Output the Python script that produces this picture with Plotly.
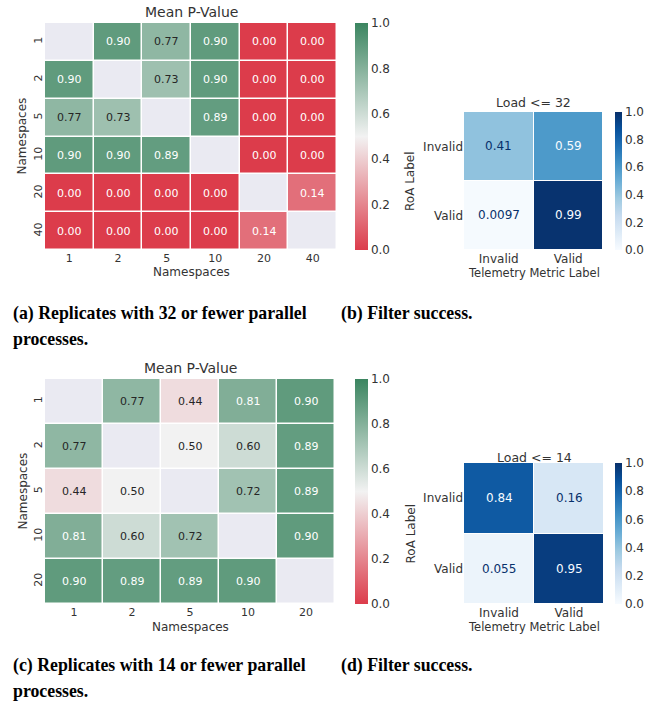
import plotly.graph_objects as go

W, H = 658, 704

# ---------------- data ----------------
ns_a = ["1", "2", "5", "10", "20", "40"]
pval_a = [
    [None, 0.90, 0.77, 0.90, 0.00, 0.00],
    [0.90, None, 0.73, 0.90, 0.00, 0.00],
    [0.77, 0.73, None, 0.89, 0.00, 0.00],
    [0.90, 0.90, 0.89, None, 0.00, 0.00],
    [0.00, 0.00, 0.00, 0.00, None, 0.14],
    [0.00, 0.00, 0.00, 0.00, 0.14, None],
]
ns_c = ["1", "2", "5", "10", "20"]
pval_c = [
    [None, 0.77, 0.44, 0.81, 0.90],
    [0.77, None, 0.50, 0.60, 0.89],
    [0.44, 0.50, None, 0.72, 0.89],
    [0.81, 0.60, 0.72, None, 0.90],
    [0.90, 0.89, 0.89, 0.90, None],
]
cm_labels = ["Invalid", "Valid"]
cm_b = [[0.41, 0.59], [0.0097, 0.99]]
cm_d = [[0.84, 0.16], [0.055, 0.95]]
cbar_ticks = [0.0, 0.2, 0.4, 0.6, 0.8, 1.0]

# ---------------- styles ----------------
RED, MID, GREEN = (220, 60, 75), (242, 242, 242), (59, 133, 96)
pv_scale = [[0, "rgb(220,60,75)"], [0.5, "rgb(242,242,242)"], [1, "rgb(59,133,96)"]]
NAN_COLOR = "#EAEAF2"
TXT = "#333333"
FONT = "DejaVu Sans"


def px_x(p):
    return p / W


def px_y(p):
    return 1 - p / H


def pv_color(v):
    if v <= 0.5:
        t = v / 0.5
        a, b = RED, MID
    else:
        t = (v - 0.5) / 0.5
        a, b = MID, GREEN
    return [a[i] + (b[i] - a[i]) * t for i in range(3)]


def lum(rgb):
    def lin(c):
        c = c / 255
        return c / 12.92 if c <= 0.04045 else ((c + 0.055) / 1.055) ** 2.4
    r, g, b = (lin(c) for c in rgb)
    return 0.2126 * r + 0.7152 * g + 0.0722 * b


fig = go.Figure()
annotations = []


def label(x, y, text, size, angle=0, anchor="center"):
    annotations.append(dict(x=px_x(x), y=px_y(y), xref="paper", yref="paper", text=text,
                            showarrow=False, xanchor=anchor, yanchor="middle", textangle=angle,
                            font=dict(family=FONT, size=size, color=TXT)))


def colorbar(cbar_box):
    cx, cy0, cy1, th = cbar_box
    return dict(x=px_x(cx), xanchor="left", y=px_y((cy0 + cy1) / 2), yanchor="middle",
                len=cy1 - cy0, lenmode="pixels", thickness=th, thicknessmode="pixels",
                xpad=0, ypad=0, outlinewidth=0, ticks="", ticklen=0, tickvals=cbar_ticks,
                tickformat=".1f", tickfont=dict(family=FONT, size=12, color=TXT))


def axes(xi, yi, box, labels, fsize, yangle):
    x0, x1, y0, y1 = box
    n = len(labels)
    idx = list(range(n))
    lay = {}
    lay["xaxis" + xi] = dict(domain=[px_x(x0), px_x(x1)], anchor="y" + yi,
                             range=[-0.5, n - 0.5], tickvals=idx, ticktext=labels,
                             showgrid=False, zeroline=False, ticks="", showline=False,
                             automargin=False, fixedrange=True,
                             tickfont=dict(family=FONT, size=fsize, color=TXT))
    lay["yaxis" + yi] = dict(domain=[px_y(y1), px_y(y0)], anchor="x" + xi,
                             range=[n - 0.5, -0.5], tickvals=idx, ticktext=labels,
                             showgrid=False, zeroline=False, ticks="", showline=False,
                             automargin=False, fixedrange=True, tickangle=yangle,
                             tickfont=dict(family=FONT, size=fsize, color=TXT))
    fig.update_layout(**lay)


def add_pval(z, cats, ax, box, cbar_box, title, title_y, xt_y, yt_x):
    xi, yi = ax
    xa, ya = "x" + xi, "y" + yi
    x0, x1, y0, y1 = box
    idx = list(range(len(cats)))
    mask = [[1 if v is None else None for v in row] for row in z]
    fig.add_trace(go.Heatmap(z=mask, x=idx, y=idx, xaxis=xa, yaxis=ya,
                             colorscale=[[0, NAN_COLOR], [1, NAN_COLOR]],
                             showscale=False, xgap=1.5, ygap=1.5, hoverinfo="skip"))
    fig.add_trace(go.Heatmap(z=z, x=idx, y=idx, xaxis=xa, yaxis=ya, zmin=0, zmax=1,
                             colorscale=pv_scale, xgap=1.5, ygap=1.5,
                             colorbar=colorbar(cbar_box)))
    for r, row in enumerate(z):
        for c, v in enumerate(row):
            if v is None:
                continue
            col = "#262626" if lum(pv_color(v)) > 0.408 else "#ffffff"
            annotations.append(dict(x=c, y=r, xref=xa, yref=ya, text=f"{v:.2f}",
                                    showarrow=False, font=dict(family=FONT, size=11, color=col)))
    axes(xi, yi, box, cats, 11, -90)
    label((x0 + x1) / 2, title_y, title, 14)
    label((x0 + x1) / 2, xt_y, "Namespaces", 12)
    label(yt_x, (y0 + y1) / 2, "Namespaces", 12, angle=-90)


def add_cm(z, ax, box, cbar_box, title, title_y, xt_y, yt_x):
    xi, yi = ax
    xa, ya = "x" + xi, "y" + yi
    x0, x1, y0, y1 = box
    idx = list(range(len(cm_labels)))
    fig.add_trace(go.Heatmap(z=z, x=idx, y=idx, xaxis=xa, yaxis=ya, zmin=0, zmax=1,
                             colorscale="Blues", xgap=1, ygap=1,
                             colorbar=colorbar(cbar_box)))
    for r, row in enumerate(z):
        for c, v in enumerate(row):
            col = "rgb(8,48,107)" if v < 0.5 else "rgb(247,251,255)"
            annotations.append(dict(x=c, y=r, xref=xa, yref=ya,
                                    text=format(v, ".2g"), showarrow=False,
                                    font=dict(family=FONT, size=12, color=col)))
    axes(xi, yi, box, cm_labels, 12, 0)
    label((x0 + x1) / 2, title_y, title, 12.5)
    label((x0 + x1) / 2, xt_y, "Telemetry Metric Label", 11.5)
    label(yt_x, (y0 + y1) / 2, "RoA Label", 12, angle=-90)


add_pval(pval_a, ns_a, ("", ""), (45, 337, 23, 250), (355, 23, 250, 13),
         "Mean P-Value", 12, 272, 22)
add_cm(cm_b, ("2", "2"), (464, 603, 112, 250), (615, 112, 250, 7),
       "Load &lt;= 32", 103, 273, 410)
add_pval(pval_c, ns_c, ("3", "3"), (45, 335, 379, 604), (355, 379, 604, 13),
         "Mean P-Value", 368, 627, 22)
add_cm(cm_d, ("4", "4"), (464, 604, 463, 604), (615, 463, 604, 7),
       "Load &lt;= 14", 457, 627, 410)

CAP = dict(family="Liberation Serif", size=17.8, color="#000000")
captions = [
    ("<b>(a) Replicates with 32 or fewer parallel</b>", 11, 313),
    ("<b>processes.</b>", 11, 339),
    ("<b>(b) Filter success.</b>", 339, 313),
    ("<b>(c) Replicates with 14 or fewer parallel</b>", 11, 665),
    ("<b>processes.</b>", 11, 691),
    ("<b>(d) Filter success.</b>", 339, 665),
]
for t, x, y in captions:
    annotations.append(dict(x=px_x(x), y=px_y(y), xref="paper", yref="paper", text=t,
                            showarrow=False, xanchor="left", yanchor="middle", font=CAP))

fig.update_layout(width=W, height=H, autosize=False,
                  margin=dict(l=0, r=0, t=0, b=0, pad=0, autoexpand=False),
                  paper_bgcolor="white", plot_bgcolor="white", showlegend=False,
                  annotations=annotations)
fig.write_html("out.html", config={"displayModeBar": False, "staticPlot": True},
               post_script="document.body.style.margin='0';document.body.style.overflow='hidden';")
